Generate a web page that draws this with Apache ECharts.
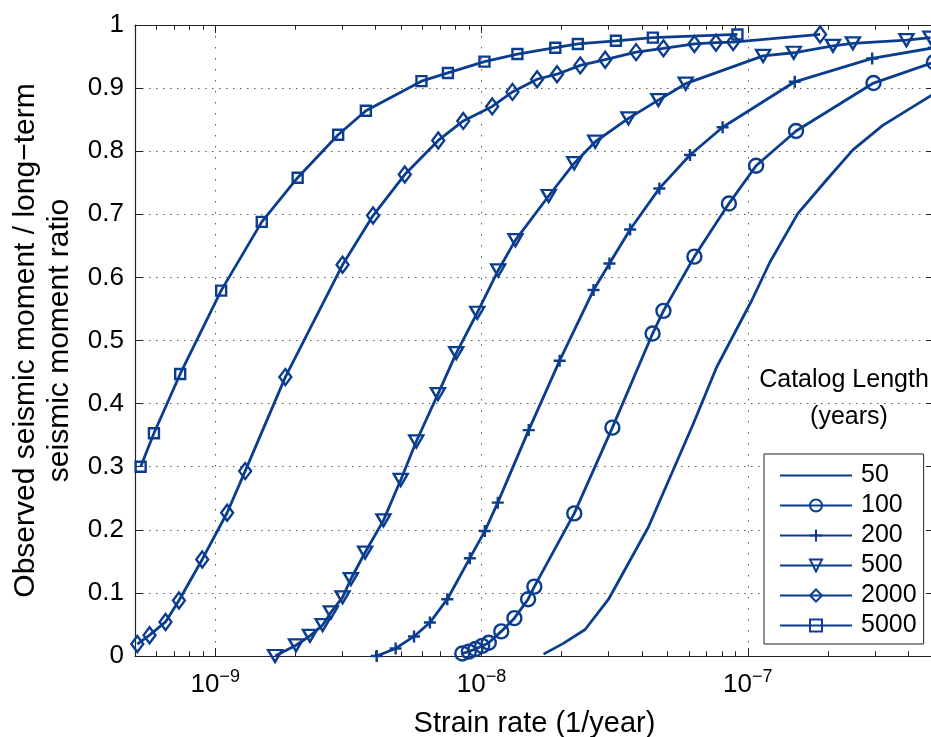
<!DOCTYPE html>
<html>
<head>
<meta charset="utf-8">
<script src="https://cdn.jsdelivr.net/npm/echarts@6/dist/echarts.min.js"></script>
<style>
html,body{margin:0;padding:0;background:#ffffff;}
#chart{width:931px;height:737px;}
</style>
</head>
<body>
<div id="chart"></div>
<script>
// ---------- data ----------
const seriesNames = ['50', '100', '200', '500', '2000', '5000'];

const rate50 = [1.71e-8, 2.03e-8, 2.45e-8, 3.0e-8, 4.23e-8, 6.24e-8, 7.64e-8, 1.033e-7, 1.21e-7, 1.54e-7, 1.97e-7, 2.48e-7, 3.21e-7, 5.0e-7];
const ratio50 = [0.003, 0.020, 0.042, 0.090, 0.204, 0.368, 0.458, 0.563, 0.624, 0.701, 0.754, 0.802, 0.841, 0.891];

const rate100 = [8.47e-9, 8.96e-9, 9.49e-9, 1.006e-8, 1.065e-8, 1.186e-8, 1.329e-8, 1.496e-8, 1.579e-8, 2.23e-8, 3.10e-8, 4.39e-8, 4.82e-8, 6.30e-8, 8.49e-8, 1.074e-7, 1.517e-7, 2.964e-7, 5.0e-7];
const ratio100 = [0.004, 0.007, 0.011, 0.016, 0.021, 0.039, 0.060, 0.090, 0.110, 0.226, 0.362, 0.511, 0.547, 0.633, 0.717, 0.777, 0.832, 0.908, 0.941];

const rate200 = [4.04e-9, 4.76e-9, 5.58e-9, 6.40e-9, 7.44e-9, 9.04e-9, 1.029e-8, 1.151e-8, 1.504e-8, 1.965e-8, 2.634e-8, 3.023e-8, 3.614e-8, 4.654e-8, 6.066e-8, 8.04e-8, 1.50e-7, 2.93e-7, 5.0e-7];
const ratio200 = [0.000, 0.012, 0.031, 0.053, 0.090, 0.155, 0.198, 0.243, 0.358, 0.468, 0.580, 0.622, 0.676, 0.741, 0.794, 0.838, 0.910, 0.947, 0.964];

const rate500 = [1.678e-9, 2.012e-9, 2.269e-9, 2.532e-9, 2.72e-9, 3.008e-9, 3.232e-9, 3.655e-9, 4.283e-9, 4.973e-9, 5.69e-9, 6.86e-9, 8.04e-9, 9.64e-9, 1.155e-8, 1.341e-8, 1.787e-8, 2.23e-8, 2.673e-8, 3.562e-8, 4.613e-8, 5.845e-8, 1.141e-7, 1.487e-7, 2.087e-7, 2.48e-7, 3.94e-7, 4.85e-7];
const ratio500 = [0.000, 0.017, 0.032, 0.049, 0.069, 0.093, 0.122, 0.164, 0.215, 0.279, 0.340, 0.415, 0.480, 0.544, 0.611, 0.659, 0.729, 0.781, 0.815, 0.852, 0.881, 0.907, 0.951, 0.956, 0.967, 0.971, 0.976, 0.980];

const rate2000 = [5.10e-10, 5.67e-10, 6.51e-10, 7.31e-10, 8.94e-10, 1.109e-9, 1.296e-9, 1.834e-9, 3.008e-9, 3.916e-9, 5.15e-9, 6.88e-9, 8.54e-9, 1.097e-8, 1.307e-8, 1.617e-8, 1.921e-8, 2.349e-8, 2.913e-8, 3.806e-8, 4.82e-8, 6.30e-8, 7.59e-8, 8.81e-8, 1.868e-7];
const ratio2000 = [0.019, 0.033, 0.054, 0.088, 0.153, 0.227, 0.293, 0.442, 0.620, 0.698, 0.763, 0.817, 0.848, 0.871, 0.894, 0.914, 0.922, 0.936, 0.945, 0.957, 0.963, 0.970, 0.972, 0.973, 0.985];

const rate5000 = [5.25e-10, 5.89e-10, 7.39e-10, 1.053e-9, 1.496e-9, 2.04e-9, 2.896e-9, 3.68e-9, 5.95e-9, 7.48e-9, 1.026e-8, 1.364e-8, 1.893e-8, 2.30e-8, 3.196e-8, 4.40e-8, 9.14e-8];
const ratio5000 = [0.300, 0.353, 0.447, 0.579, 0.688, 0.758, 0.826, 0.864, 0.911, 0.924, 0.942, 0.954, 0.964, 0.970, 0.975, 0.980, 0.985];

// axis ranges and ticks
const xMin = 5e-10;
const xMax = 5e-7;
const majorXTicks = [1e-9, 1e-8, 1e-7];
const minorXTicks = [6e-10, 7e-10, 8e-10, 9e-10,
  2e-9, 3e-9, 4e-9, 5e-9, 6e-9, 7e-9, 8e-9, 9e-9,
  2e-8, 3e-8, 4e-8, 5e-8, 6e-8, 7e-8, 8e-8, 9e-8,
  2e-7, 3e-7, 4e-7];
const yTickLabels = ['0', '0.1', '0.2', '0.3', '0.4', '0.5', '0.6', '0.7', '0.8', '0.9', '1'];

const legendTitleLines = ['Catalog Length', '(years)'];
const xTitle = 'Strain rate (1/year)';
const yTitle = 'Observed seismic moment / long\u2212term\nseismic moment ratio';

// ---------- styling ----------
const BLUE = '#0b3d8e';
const FONT = 'Liberation Sans';
const AXIS = '#222222';
const GRID = '#5a5a5a';

const rates = [rate50, rate100, rate200, rate500, rate2000, rate5000];
const ratios = [ratio50, ratio100, ratio200, ratio500, ratio2000, ratio5000];
const symbolOf = {
  '50': 'circle',
  '100': 'circle',
  '200': 'path://M6,0V12M0,6H12',
  '500': 'path://M0,0L14,0L7,12Z',
  '2000': 'diamond',
  '5000': 'rect'
};
const symbolSizeOf = { '50': 1, '100': 14, '200': 12, '500': [14, 12], '2000': [12, 16], '5000': 10 };

function zip(a, b) { return a.map((v, i) => [v, b[i]]); }

// dotted minor grid lines and small minor tick marks (bottom and top), positioned through the x axis
const minorMarks = minorXTicks.map(v => ({ xAxis: v }))
  .concat(minorXTicks.map(v => [
    { coord: [v, 0], lineStyle: { type: 'solid', color: AXIS, width: 1 } },
    { coord: [v, 0.0075] }
  ]))
  .concat(minorXTicks.map(v => [
    { coord: [v, 1], lineStyle: { type: 'solid', color: AXIS, width: 1 } },
    { coord: [v, 0.9925] }
  ]));

const curveSeries = seriesNames.map((n, i) => {
  const s = {
    name: n,
    type: 'line',
    data: zip(rates[i], ratios[i]),
    symbol: symbolOf[n],
    symbolSize: symbolSizeOf[n],
    showSymbol: n !== '50',
    lineStyle: { color: BLUE, width: 2.8 },
    itemStyle: { color: 'rgba(0,0,0,0)', borderColor: BLUE, borderWidth: n === '50' ? 0 : 2.4 },
    emphasis: { disabled: true },
    z: 5,
    animation: false
  };
  if (n === '50') {
    s.markLine = {
      silent: true,
      animation: false,
      z: 1,
      symbol: ['none', 'none'],
      label: { show: false },
      emphasis: { disabled: true },
      lineStyle: { color: GRID, width: 1, type: [1.5, 9.5] },
      data: minorMarks
    };
  }
  return s;
});

function xLabel(v) {
  const e = Math.log10(v);
  const r = Math.round(e);
  if (Math.abs(e - r) > 1e-6) return '';
  if (!majorXTicks.some(t => Math.abs(Math.log10(t) - r) < 1e-6)) return '';
  return '{b|10}{s|\u2212' + (-r) + '}';
}

const chart = echarts.init(document.getElementById('chart'), null, { renderer: 'canvas' });
chart.setOption({
  animation: false,
  backgroundColor: '#ffffff',
  grid: { left: 135, top: 25, width: 799, height: 631, containLabel: false, outerBoundsMode: 'none' },
  xAxis: [{
    type: 'log', logBase: 10, min: xMin, max: xMax, position: 'bottom',
    axisLine: { show: true, onZero: false, lineStyle: { color: AXIS, width: 1.2 } },
    axisTick: { show: true, inside: true, length: 8, lineStyle: { color: AXIS, width: 1 } },
    axisLabel: {
      margin: 12, formatter: xLabel, showMinLabel: false, showMaxLabel: false,
      rich: {
        b: { fontFamily: FONT, fontSize: 26, color: '#000', lineHeight: 30, verticalAlign: 'bottom' },
        s: { fontFamily: FONT, fontSize: 18, color: '#000', lineHeight: 14, verticalAlign: 'top' }
      }
    },
    splitLine: { show: true, lineStyle: { color: GRID, width: 1, type: [1.5, 9.5] } },
    name: xTitle, nameLocation: 'middle', nameGap: 53,
    nameTextStyle: { fontFamily: FONT, fontSize: 29, color: '#000' }
  }, {
    type: 'log', logBase: 10, min: xMin, max: xMax, position: 'top',
    axisLine: { show: true, onZero: false, lineStyle: { color: AXIS, width: 1.2 } },
    axisTick: { show: true, inside: true, length: 8, lineStyle: { color: AXIS, width: 1 } },
    axisLabel: { show: false },
    splitLine: { show: false }
  }],
  yAxis: [{
    type: 'value', min: 0, max: 1, interval: 0.1, position: 'left',
    axisLine: { show: true, onZero: false, lineStyle: { color: AXIS, width: 1.2 } },
    axisTick: { show: true, inside: true, length: 8, lineStyle: { color: AXIS, width: 1 } },
    axisLabel: {
      fontFamily: FONT, fontSize: 26, color: '#000', margin: 11,
      formatter: (v) => yTickLabels[Math.round(v * 10)]
    },
    splitLine: { show: true, lineStyle: { color: GRID, width: 1, type: [1.5, 5.5] } },
    name: yTitle, nameLocation: 'middle', nameGap: 50, nameRotate: 90,
    nameTextStyle: { fontFamily: FONT, fontSize: 30, lineHeight: 34, color: '#000', align: 'center' }
  }, {
    type: 'value', min: 0, max: 1, interval: 0.1, position: 'right',
    axisLine: { show: true, onZero: false, lineStyle: { color: AXIS, width: 1.2 } },
    axisTick: { show: true, inside: true, length: 8, lineStyle: { color: AXIS, width: 1 } },
    axisLabel: { show: false },
    splitLine: { show: false }
  }],
  legend: {
    data: seriesNames,
    orient: 'vertical',
    left: 764, top: 454,
    itemWidth: 72, itemHeight: 15, itemGap: 5,
    padding: [9, 7, 6, 15],
    backgroundColor: '#ffffff',
    borderColor: AXIS, borderWidth: 1, borderRadius: 0,
    selectedMode: false,
    textStyle: { fontFamily: FONT, fontSize: 25, lineHeight: 25, color: '#000', padding: [0, 0, 0, 4] },
    z: 10
  },
  graphic: [
    { type: 'text', x: 844, y: 380, z: 10,
      style: { text: legendTitleLines[0], font: '25px "Liberation Sans"', fill: '#000', align: 'center', verticalAlign: 'middle' } },
    { type: 'text', x: 849, y: 417, z: 10,
      style: { text: legendTitleLines[1], font: '25px "Liberation Sans"', fill: '#000', align: 'center', verticalAlign: 'middle' } }
  ],
  series: curveSeries
});
</script>
</body>
</html>
